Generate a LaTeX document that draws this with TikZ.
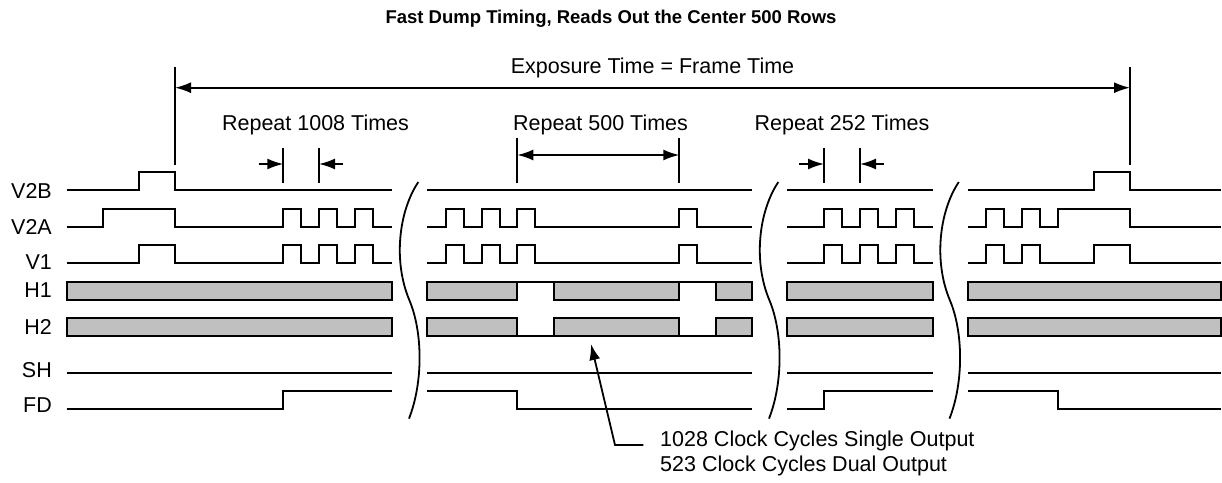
\documentclass[tikz,border=0pt]{standalone}
\usepackage{fontspec}
\setmainfont{Liberation Sans}
\usetikzlibrary{arrows.meta}
\definecolor{busgray}{RGB}{192,192,192}
% one pulse of width 18 for every rising edge in the list
\newcommand{\pulses}[1]{\foreach \s in {#1}{ -- (\s,0) -- (\s,-18) -- ({\s+18},-18) -- ({\s+18},0)}}

\begin{document}
\begin{tikzpicture}[
    x=1pt, y=-1pt,
    sig/.style={line width=1.8pt},
    bus/.style={draw, line width=1.8pt, fill=busgray},
    brk/.style={line width=1.8pt},
    lbl/.style={anchor=east, inner sep=0pt, font=\fontsize{21.5}{26}\selectfont},
    txt/.style={anchor=base, inner sep=0pt, font=\fontsize{21.5}{26}\selectfont},
    arrow/.style={-{Latex[length=16pt,width=11pt]}, line width=1.8pt},
    both/.style={{Latex[length=16pt,width=11pt]}-{Latex[length=16pt,width=11pt]}, line width=1.8pt}
]
\useasboundingbox (0,0) rectangle (1222,482);

% Title
\node[anchor=base, inner sep=0pt, font=\fontsize{18.5}{22}\selectfont\bfseries] (title) at (611,23.3)
    {Fast Dump Timing, Reads Out the Center 500 Rows};

% Signal names
\foreach \name/\y in {V2B/191, V2A/226.7, V1/262.5, H1/290, H2/327, SH/370, FD/405}
    \node[lbl] (l\name) at (52,\y) {\name};

% V2B
\begin{scope}[shift={(0,190)}]
\draw[sig] (66.7,0) -- (139.3,0) |- (175,-18) |- (391.7,0);
\draw[sig] (427.3,0) -- (752.3,0);
\draw[sig] (787.3,0) -- (932.7,0);
\draw[sig] (968.3,0) -- (1094.3,0) |- (1130,-18) |- (1220.7,0);
\end{scope}

% V2A
\begin{scope}[shift={(0,226.7)}]
\draw[sig] (66.7,0) -- (102.7,0) |- (175,-18) |- (283.3,0) \pulses{283.3,319,355} -- (391.7,0);
\draw[sig] (427.3,0) \pulses{445.7,481.7,517.3,679.3} -- (752.3,0);
\draw[sig] (787.3,0) \pulses{824,860,895.7} -- (932.7,0);
\draw[sig] (968.3,0) \pulses{985.7,1021.7} -- (1058.3,0) |- (1130,-18) |- (1220.7,0);
\end{scope}

% V1
\begin{scope}[shift={(0,263.3)}]
\draw[sig] (66.7,0) -- (139.3,0) |- (175,-18) |- (283.3,0) \pulses{283.3,319,355} -- (391.7,0);
\draw[sig] (427.3,0) \pulses{445.7,481.7,517.3,679.3} -- (752.3,0);
\draw[sig] (787.3,0) \pulses{824,860,895.7} -- (932.7,0);
\draw[sig] (968.3,0) \pulses{985.7,1021.7} -- (1094.3,0) |- (1130,-18) |- (1220.7,0);
\end{scope}

% H1 and H2 clocking
\foreach \t in {282,318.3}
    \foreach \a/\b in {66.7/391.7, 427.3/517.3, 554/679.3, 716/752.3, 787.3/932.7, 968.3/1220.7}
        \draw[bus] (\a,\t) rectangle (\b,{\t+18});
\draw[sig] (427.3,282) -- (752.3,282);
\draw[sig] (427.3,336.3) -- (752.3,336.3);

% SH
\foreach \a/\b in {66.7/391.7, 427.3/752.3, 787.3/932.7, 968.3/1220.7}
    \draw[sig] (\a,372.7) -- (\b,372.7);

% FD
\begin{scope}[shift={(0,409)}]
\draw[sig] (66.7,0) -- (283.3,0) |- (391.7,-18);
\draw[sig] (427.3,-18) -- (517.3,-18) |- (752.3,0);
\draw[sig] (787.3,0) -- (824,0) |- (932.7,-18);
\draw[sig] (968.3,-18) -- (1057.7,-18) |- (1220.7,0);
\end{scope}

% Time breaks
\foreach \a in {418.3,778.3,958.8}
    \draw[brk] (\a,182) .. controls ({\a-20},212) and ({\a-25},262) .. ({\a-9},300)
        .. controls ({\a+4.5},332) and ({\a+5},382) .. ({\a-9.3},418.6);

% Exposure time
\coordinate (expL) at (175,87.7);
\coordinate (expR) at (1130,87.7);
\draw[sig] (175,66.7) -- (175,165);
\draw[sig] (1130,66.7) -- (1130,165);
\draw[both] (expL) -- (expR);
\node[txt] (exptext) at (652.5,73) {Exposure Time = Frame Time};

% Repeat 1008 Times
\node[txt] (rep1) at (315.5,130.7) {Repeat 1008 Times};
\coordinate (r1a) at (283.3,164);
\coordinate (r1b) at (319,164);
\draw[sig] (283.3,147.7) -- (283.3,183);
\draw[sig] (319,147.7) -- (319,183);
\draw[arrow] (258.7,164) -- (r1a);
\draw[arrow] (343.3,164) -- (r1b);

% Repeat 500 Times
\node[txt] (rep2) at (600.5,130.7) {Repeat 500 Times};
\coordinate (r2a) at (517.3,155);
\coordinate (r2b) at (679.3,155);
\draw[sig] (517.3,138) -- (517.3,183);
\draw[sig] (679.3,138) -- (679.3,183);
\draw[both] (r2a) -- (r2b);

% Repeat 252 Times
\node[txt] (rep3) at (842,130.7) {Repeat 252 Times};
\coordinate (r3a) at (824,164);
\coordinate (r3b) at (860,164);
\draw[sig] (824,147.7) -- (824,183);
\draw[sig] (860,147.7) -- (860,183);
\draw[arrow] (799,164) -- (r3a);
\draw[arrow] (884,164) -- (r3b);

% Clock cycles note
\node[anchor=base west, inner sep=0pt, align=left, font=\fontsize{21.5}{25.7}\selectfont] (cycles) at (660,471.7)
    {1028 Clock Cycles Single Output\\523 Clock Cycles Dual Output};
\coordinate (lead) at (643.3,445);
\coordinate (knee) at (615,445);
\coordinate (tip) at (591,344);
\draw[arrow] (lead) -- (knee) -- (tip);

\end{tikzpicture}
\end{document}
